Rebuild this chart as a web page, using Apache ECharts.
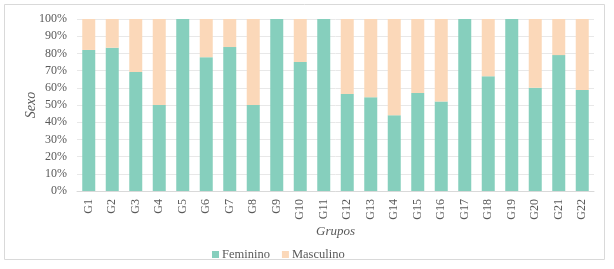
<!DOCTYPE html>
<html><head><meta charset="utf-8">
<script src="https://cdn.jsdelivr.net/npm/echarts@6/dist/echarts.min.js"></script>
<style>html,body{margin:0;padding:0;background:#fff}#c{width:614px;height:269px}</style>
</head><body><div id="c"></div>
<script>
const categories = ['G1','G2','G3','G4','G5','G6','G7','G8','G9','G10','G11','G12','G13','G14','G15','G16','G17','G18','G19','G20','G21','G22'];
const feminino = [82, 83.3, 69.2, 50, 100, 77.8, 83.7, 50, 100, 75, 100, 56.4, 54.5, 44, 57, 52.1, 100, 66.7, 100, 60, 79, 58.7];
const masculino = feminino.map(v => +(100 - v).toFixed(1));
const yTicks = [0,10,20,30,40,50,60,70,80,90,100];

const font = '"Liberation Serif", "Times New Roman", serif';
const txt = '#595959';
const chart = echarts.init(document.getElementById('c'));
chart.setOption({
  animation: false,
  textStyle: {fontFamily: font},
  graphic: [{type:'rect', shape:{x:4.5,y:4.5,width:600,height:255}, style:{fill:'none', stroke:'#d9d9d9', lineWidth:1}}],
  grid: {left:77, right:20, top:19, bottom:78},
  legend: {
    left: 207, top: 243, itemWidth: 7, itemHeight: 7, itemGap: 12,
    icon: 'rect',
    textStyle: {fontFamily: font, fontSize: 12.5, color: txt, padding:[0,0,0,-2]},
    data: ['Feminino','Masculino']
  },
  xAxis: {
    type: 'category', data: categories,
    name: 'Grupos', nameLocation: 'middle', nameGap: 34, nameMoveOverlap: false,
    nameTextStyle: {fontFamily: font, fontStyle: 'italic', fontSize: 13, color: txt},
    axisLine: {lineStyle: {color: '#d9d9d9', width: 1}},
    axisTick: {show: false},
    axisLabel: {rotate: 90, fontFamily: font, fontSize: 12, color: txt, margin: 8}
  },
  yAxis: {
    type: 'value', min: 0, max: 100, interval: 10,
    name: 'Sexo', nameLocation: 'middle', nameGap: 39, nameMoveOverlap: false,
    nameTextStyle: {fontFamily: font, fontStyle: 'italic', fontSize: 14, color: txt},
    axisLine: {show: false}, axisTick: {show: false},
    splitLine: {lineStyle: {color: '#e8e8e8', width: 1}},
    axisLabel: {fontFamily: font, fontSize: 12, color: txt, margin: 10, formatter: v => yTicks.includes(v) ? v + '%' : ''}
  },
  series: [
    {name:'Feminino', type:'bar', stack:'s', data: feminino, barWidth: 13,
     itemStyle:{color:'#86cfbd'}},
    {name:'Masculino', type:'bar', stack:'s', data: masculino, barWidth: 13,
     itemStyle:{color:'#fbd8b9'}}
  ]
});
</script></body></html>
